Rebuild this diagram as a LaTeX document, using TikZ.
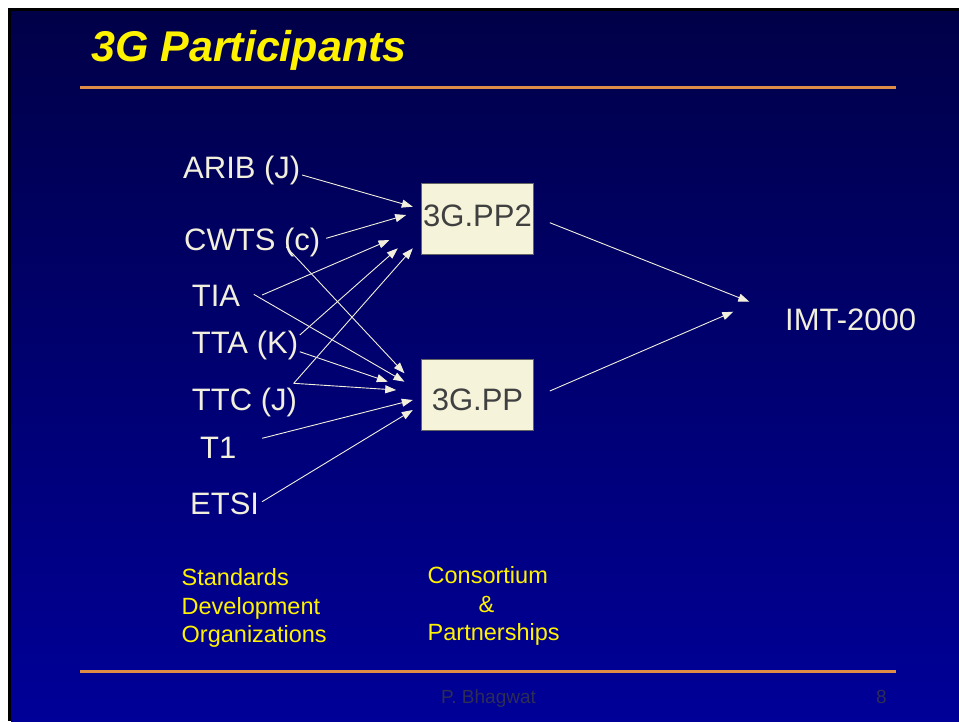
\documentclass[tikz,border=0pt]{standalone}
\usepackage{fontspec}
\setmainfont{Liberation Sans}
\usetikzlibrary{arrows.meta}

\definecolor{slidetop}{RGB}{0,0,72}
\definecolor{slidebot}{RGB}{0,0,152}
\definecolor{rulecol}{RGB}{222,140,72}
\definecolor{chalk}{RGB}{242,240,220}
\definecolor{boxfill}{RGB}{245,243,218}
\definecolor{boxline}{RGB}{100,100,100}
\definecolor{footgray}{RGB}{45,45,85}

\begin{document}
\begin{tikzpicture}[x=1pt,y=-1pt,
  org/.style={anchor=base west,inner sep=0pt,text=chalk,font=\fontsize{31}{36}\selectfont},
  group/.style={draw=boxline,line width=1pt,fill=boxfill,inner sep=0pt,
    minimum width=111.6pt,minimum height=71pt,text=black!75,font=\fontsize{31}{36}\selectfont},
  note/.style={anchor=north west,inner sep=0pt,align=left,text=yellow,font=\fontsize{23.5}{28.7}\selectfont},
  foot/.style={anchor=base west,inner sep=0pt,text=footgray,font=\fontsize{19}{22}\selectfont},
  arr/.style={draw=chalk,line width=0.9pt,-{Triangle[length=11pt,width=8pt]}}]

  % slide background
  \useasboundingbox (0,0) rectangle (959,721);
  \fill[white] (0,0) rectangle (959,721);
  \fill[black] (8,8) rectangle (959,721);
  \shade[top color=slidetop,bottom color=slidebot] (11,11) rectangle (959,721);
  \draw[rulecol,line width=3pt] (80,87.7) -- (896,87.7);
  \draw[rulecol,line width=3pt] (80,671.7) -- (896,671.7);

  \node[anchor=base west,inner sep=0pt,text=yellow,font=\fontsize{43}{50}\selectfont\bfseries\itshape]
    (title) at (91,61.7) {3G Participants};

  % standards bodies
  \node[org] (arib) at (183,178.3) {ARIB (J)};
  \node[org] (cwts) at (184,250) {CWTS (c)};
  \node[org] (tia)  at (191.7,306.7) {TIA};
  \node[org] (tta)  at (191.7,353.3) {TTA (K)};
  \node[org] (ttc)  at (191.7,410.7) {TTC (J)};
  \node[org] (tone) at (200,458.3) {T1};
  \node[org] (etsi) at (190,514) {ETSI};

  % partnership projects
  \node[group,text depth=5.6pt] (pp2) at (477.5,218.8) {3G.PP2};
  \node[group,text height=32.2pt] (pp) at (477.5,394.7) {3G.PP};
  \node[org] (imt) at (785,330.7) {IMT-2000};

  \draw[arr] ([shift={(1.6,-3.3)}]arib.base east) -- ([shift={(-8.4,-12.1)}]pp2.west);
  \draw[arr] ([shift={(5.7,-11.7)}]cwts.base east) -- ([shift={(-15,-3.8)}]pp2.west);
  \draw[arr] ([shift={(-34.3,-3.3)}]cwts.base east) -- ([shift={(-16.7,-21.4)}]pp.west);
  \draw[arr] ([shift={(21.8,-11.7)}]tia.base east) -- ([shift={(-31.7,21.2)}]pp2.west);
  \draw[arr] ([shift={(13.4,-12.4)}]tia.base east) -- ([shift={(-16.7,-13)}]pp.west);
  \draw[arr] ([shift={(1.5,-18.3)}]tta.base east) -- ([shift={(-23.4,29.5)}]pp2.west);
  \draw[arr] ([shift={(1.5,-1.6)}]tta.base east) -- ([shift={(-33.4,-13)}]pp.west);
  \draw[arr] ([shift={(-3.4,-27.4)}]ttc.base east) -- ([shift={(-8.4,29.5)}]pp2.west);
  \draw[arr] ([shift={(-3.4,-27.4)}]ttc.base east) -- ([shift={(-25,-4.7)}]pp.west);
  \draw[arr] ([shift={(25.5,-20)}]tone.base east) -- ([shift={(-8.4,5.3)}]pp.west);
  \draw[arr] ([shift={(2.8,-12.3)}]etsi.base east) -- ([shift={(-8.4,15.3)}]pp.west);

  \draw[arr] ([shift={(16,3.9)}]pp2.east) -- ([shift={(-35.7,-29)}]imt.base west);
  \draw[arr] ([shift={(16,-3.7)}]pp.east) -- ([shift={(-51.7,-19)}]imt.base west);

  % column captions
  \node[note] (sdo) at (181.5,568.2) {Standards\\Development\\Organizations};
  \node[note] (cons) at (427.5,566.2) {Consortium\\\hspace*{51pt}\&\\Partnerships};

  % footer
  \node[foot] (author) at (441,703) {P. Bhagwat};
  \node[foot] (page) at (876,703) {8};
\end{tikzpicture}
\end{document}
